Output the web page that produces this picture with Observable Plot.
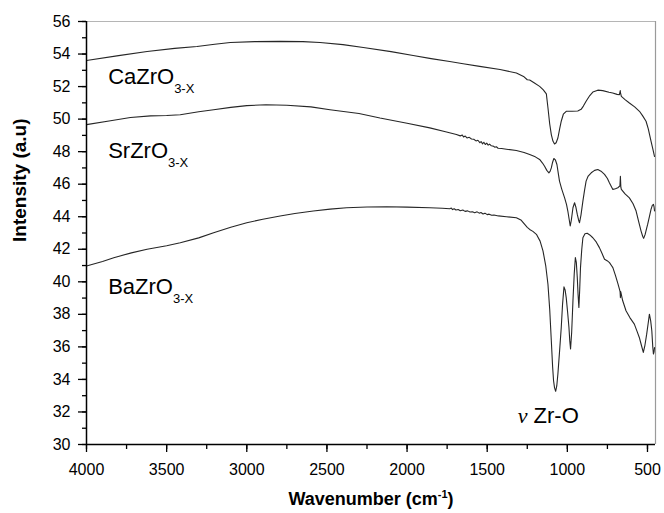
<!DOCTYPE html>
<html><head><meta charset="utf-8">
<script src="https://cdn.jsdelivr.net/npm/d3@7"></script>
<script src="https://cdn.jsdelivr.net/npm/@observablehq/plot@0.6"></script>
<style>
body{margin:0;background:#fff;}
#chart{width:664px;height:513px;}
</style></head><body><div id="chart"></div>
<script>
// [wavenumber cm-1, intensity a.u.]
const CaZrO3 = [
[4000,53.6],[3800,53.9],[3622,54.16],[3450,54.35],[3311,54.46],[3200,54.6],[3103,54.71],[2950,54.76],[2792,54.78],[2650,54.76],[2543,54.71],[2400,54.58],[2273,54.4],[2100,54.15],[1962,53.91],[1850,53.72],[1734,53.54],[1650,53.4],[1547,53.24],[1420,53.05],[1318,52.83],[1270,52.6],[1250,52.42],[1235,52.4],[1210,52.25],[1173,52.01],[1150,51.8],[1131,51.55],[1121,50.7],[1110,49.7],[1100,49.05],[1090,48.65],[1080,48.47],[1070,48.55],[1059,48.84],[1048,49.4],[1038,49.87],[1025,50.3],[1007,50.48],[970,50.48],[935,50.5],[914,50.6],[900,50.8],[883,51.1],[860,51.45],[841,51.66],[810,51.78],[779,51.75],[740,51.65],[717,51.6],[690,51.52],[675,51.5],[670,51.75],[668,51.6],[663,51.4],[640,51.2],[613,50.99],[580,50.75],[550,50.48],[530,50.2],[509,49.87],[495,49.4],[478,48.64],[465,48.1],[456,47.7]
];
const SrZrO3 = [
[4000,49.66],[3850,49.9],[3726,50.1],[3600,50.2],[3500,50.22],[3415,50.27],[3300,50.45],[3207,50.58],[3100,50.72],[3000,50.83],[2880,50.88],[2750,50.85],[2600,50.75],[2481,50.58],[2300,50.35],[2169,50.07],[2000,49.75],[1858,49.46],[1760,49.22],[1692,49.05],[1668,48.97],[1655,49.02],[1648,48.9],[1637,48.96],[1626,48.84],[1612,48.88],[1598,48.78],[1584,48.76],[1570,48.66],[1558,48.7],[1546,48.55],[1538,48.62],[1529,48.48],[1521,48.58],[1512,48.44],[1503,48.52],[1494,48.4],[1485,48.46],[1474,48.36],[1462,48.34],[1452,48.27],[1443,48.3],[1432,48.21],[1410,48.19],[1380,48.15],[1318,48.07],[1270,47.95],[1235,47.82],[1200,47.68],[1173,47.52],[1155,47.3],[1142,47.1],[1128,46.85],[1115,46.7],[1107,46.8],[1100,47.0],[1092,47.35],[1084,47.58],[1075,47.5],[1065,47.21],[1057,46.7],[1049,46.19],[1035,45.7],[1017,45.16],[1005,44.75],[997,44.35],[988,43.8],[982,43.43],[975,43.8],[965,44.55],[955,44.86],[947,44.6],[938,44.14],[930,43.8],[924,43.63],[915,44.1],[903,44.96],[893,45.6],[883,46.19],[870,46.5],[851,46.7],[830,46.85],[810,46.9],[790,46.8],[768,46.6],[750,46.35],[737,46.08],[725,45.85],[716,45.68],[700,45.72],[685,45.78],[672,45.9],[669,46.49],[666,45.8],[663,45.68],[640,45.4],[613,45.16],[590,44.8],[571,44.35],[555,43.7],[540,43.12],[530,42.8],[524,42.67],[515,42.9],[505,43.3],[499,43.53],[488,44.0],[478,44.45],[470,44.7],[463,44.76],[459,44.6],[456,44.35]
];
const BaZrO3 = [
[4000,40.97],[3900,41.25],[3830,41.48],[3720,41.78],[3622,42.0],[3500,42.22],[3415,42.4],[3300,42.7],[3207,43.02],[3100,43.35],[3000,43.63],[2900,43.85],[2792,44.04],[2700,44.2],[2585,44.35],[2480,44.47],[2377,44.55],[2250,44.6],[2128,44.61],[2000,44.59],[1858,44.55],[1780,44.52],[1734,44.49],[1724,44.53],[1716,44.44],[1706,44.49],[1695,44.41],[1681,44.44],[1668,44.37],[1652,44.41],[1638,44.33],[1622,44.36],[1607,44.29],[1592,44.31],[1578,44.25],[1563,44.3],[1550,44.22],[1539,44.26],[1526,44.17],[1514,44.22],[1500,44.13],[1488,44.16],[1472,44.09],[1458,44.11],[1430,44.05],[1380,44.0],[1318,43.94],[1290,43.8],[1266,43.53],[1250,43.35],[1235,43.22],[1215,43.1],[1193,42.92],[1170,42.5],[1152,41.9],[1135,41.0],[1121,39.85],[1110,38.3],[1100,36.38],[1092,34.8],[1086,33.92],[1080,33.5],[1073,33.27],[1066,33.6],[1059,34.33],[1048,35.8],[1038,37.19],[1030,38.6],[1021,39.69],[1014,39.5],[1007,39.03],[998,38.1],[990,37.19],[985,36.4],[980,35.87],[973,36.9],[965,38.83],[957,40.5],[950,41.49],[944,41.2],[938,40.26],[933,39.2],[928,38.42],[923,39.5],[918,40.87],[910,42.0],[903,42.71],[890,42.95],[876,42.98],[860,42.88],[841,42.71],[820,42.45],[800,42.1],[784,41.75],[768,41.39],[752,41.3],[737,41.18],[725,41.0],[716,40.87],[700,40.4],[685,39.9],[675,39.55],[671,39.4],[669,39.03],[667,39.4],[655,38.85],[634,38.22],[610,37.8],[582,37.4],[565,36.95],[551,36.58],[538,36.1],[526,35.66],[516,36.1],[505,36.78],[495,37.5],[488,38.01],[480,37.6],[473,36.99],[467,36.0],[463,35.56],[459,35.7],[456,35.96]
];
const seriesNames = ["CaZrO3-X", "SrZrO3-X", "BaZrO3-X"];
const seriesData = [CaZrO3, SrZrO3, BaZrO3];

// annotation labels (anchored in data units)
const labels = [
  {pre: "", name: "CaZrO", sub: "3-X", w: 3865, v: 52.62},
  {pre: "", name: "SrZrO", sub: "3-X", w: 3865, v: 48.07},
  {pre: "", name: "BaZrO", sub: "3-X", w: 3865, v: 39.70},
  {pre: "\u03BD", name: "Zr-O", sub: "", w: 1310, v: 31.78}
];

const xMajor = [4000, 3500, 3000, 2500, 2000, 1500, 1000, 500];
const xMinor = [4000, 3750, 3500, 3250, 3000, 2750, 2500, 2250, 2000, 1750, 1500, 1250, 1000, 750, 500];
const yMajor = [30, 32, 34, 36, 38, 40, 42, 44, 46, 48, 50, 52, 54, 56];
const yMinor = d3.range(30, 57, 1);
const xDomain = [4000, 450];
const yDomain = [30, 56];
const xTitleParts = ["Wavenumber (cm", "-1", ")"];
const xTitle = xTitleParts.join("");
const yTitle = "Intensity (a.u)";

const rows = seriesData.flatMap((pts, i) => pts.map(([w, v]) => ({series: seriesNames[i], w, v})));

const font = "'Liberation Sans', Arial, Helvetica, sans-serif";
const plot = Plot.plot({
  width: 664, height: 513,
  marginTop: 21, marginRight: 9, marginBottom: 69, marginLeft: 86,
  style: {fontFamily: font, fontSize: "16px", background: "white", color: "black"},
  x: {domain: xDomain},
  y: {domain: yDomain},
  marks: [
    Plot.ruleY([yDomain[1]], {stroke: "#b5b5b5", strokeWidth: 1.2}),
    Plot.ruleX([xDomain[1]], {stroke: "#9a9a9a", strokeWidth: 1.2}),
    Plot.line(rows, {x: "w", y: "v", z: "series", stroke: "#262626", strokeWidth: 1.1}),
    Plot.axisX(xMinor, {tickSize: 5, tickFormat: () => "", label: null, strokeWidth: 1.3, stroke: "black"}),
    Plot.axisX(xMajor, {tickSize: 8, tickPadding: 11, fontSize: 16, label: null, strokeWidth: 1.3, stroke: "black", tickFormat: d => String(d)}),
    Plot.axisY(yMinor, {tickSize: 4, tickFormat: () => "", label: null, strokeWidth: 1.3, stroke: "black"}),
    Plot.axisY(yMajor, {tickSize: 8, tickPadding: 8, fontSize: 16, label: null, strokeWidth: 1.3, stroke: "black", tickFormat: d => String(d)}),
    Plot.ruleX([xDomain[0]], {stroke: "black", strokeWidth: 1.5}),
    Plot.ruleY([yDomain[0]], {stroke: "black", strokeWidth: 1.5}),
    Plot.text(labels, {x: "w", y: "v", text: "name", textAnchor: "start", lineAnchor: "middle", fontSize: 22, fill: "black"}),
    Plot.text([xTitle], {text: d => d, frameAnchor: "bottom", dy: 60, fontWeight: "bold", fontSize: 18, fill: "black"}),
    Plot.text([yTitle], {text: d => d, frameAnchor: "left", rotate: -90, dx: -67, dy: 9, fontWeight: "bold", fontSize: 19, fill: "black"})
  ]
});

// rich text: subscripts, superscript, Greek nu
d3.select(plot).selectAll("text").each(function () {
  const t = this.textContent;
  const el = d3.select(this);
  const lab = labels.find(l => l.name === t);
  if (lab) {
    if (lab.pre) {
      el.text("");
      el.append("tspan").attr("font-family", "'Liberation Serif', 'Times New Roman', serif").attr("font-style", "italic").text(lab.pre);
      el.append("tspan").text(" " + lab.name);
    }
    if (lab.sub) el.append("tspan").attr("font-size", 13).attr("dy", 9).text(lab.sub);
  } else if (t === xTitle) {
    el.text("");
    el.append("tspan").text(xTitleParts[0]);
    el.append("tspan").attr("font-size", 11).attr("dy", -7).text(xTitleParts[1]);
    el.append("tspan").attr("dy", 7).text(xTitleParts[2]);
  }
});

document.getElementById("chart").appendChild(plot);
</script>
</body></html>
